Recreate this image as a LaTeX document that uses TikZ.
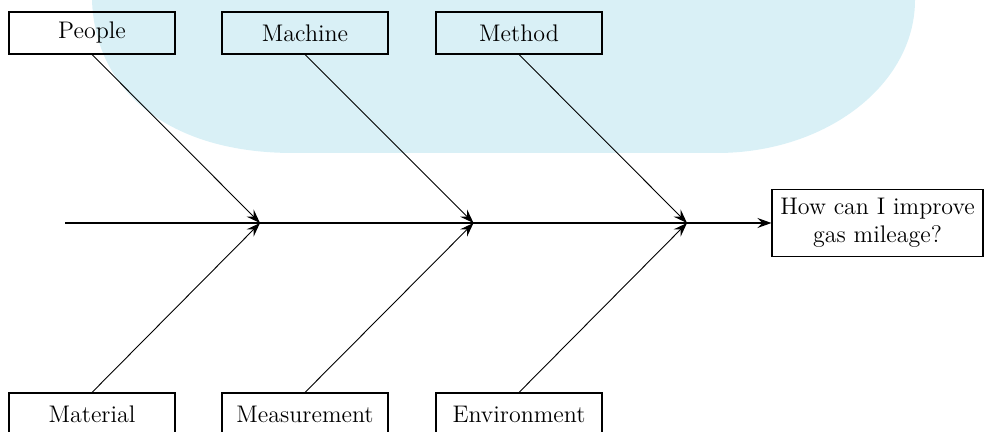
\documentclass[tikz,border=0pt]{standalone}
\usetikzlibrary{arrows.meta}
\definecolor{blobblue}{RGB}{217,240,246}
\tikzset{causebox/.style={draw,line width=0.55pt,minimum width=83pt,minimum height=21pt,inner sep=0pt,font=\fontsize{12}{14}\selectfont},
  effectbox/.style={draw,line width=0.55pt,minimum width=105.5pt,minimum height=33.5pt,inner sep=0pt,align=center,font=\fontsize{12}{14}\selectfont},
  bone/.style={line width=0.45pt,-{Stealth[length=7pt,width=5pt,inset=2.5pt]}},
  spine/.style={line width=0.7pt,-{Stealth[length=7pt,width=5pt,inset=2.5pt]}}}
\begin{document}
\begin{tikzpicture}[x=0.5pt,y=0.5pt]
\useasboundingbox (0,0) rectangle (984,432);
% background shape
\fill[blobblue] (92,440) -- (92,432) .. controls (95,340) and (170,279) .. (293,279) -- (717,279) .. controls (826.4,279) and (915,347.5) .. (915,432) -- (915,440) -- cycle;
% causes
\node[causebox] (people) at (92,399) {People};
\node[causebox] (machine) at (305,399) {Machine};
\node[causebox] (method) at (519,399) {Method};
\node[causebox] (material) at (92,18) {Material};
\node[causebox] (measure) at (305,18) {Measurement};
\node[causebox] (environ) at (519,18) {Environment};
% effect
\node[effectbox] (goal) at (877.5,209) {How can I improve\\gas mileage?};
\coordinate (tail) at (65,209);
\coordinate (j1) at (260,209);
\coordinate (j2) at (473.5,209);
\coordinate (j3) at (687,209);
\draw[spine] (tail) -- (goal.west);
\draw[bone] (people.south) -- (j1);
\draw[bone] (machine.south) -- (j2);
\draw[bone] (method.south) -- (j3);
\draw[bone] (material.north) -- (j1);
\draw[bone] (measure.north) -- (j2);
\draw[bone] (environ.north) -- (j3);
\end{tikzpicture}
\end{document}
